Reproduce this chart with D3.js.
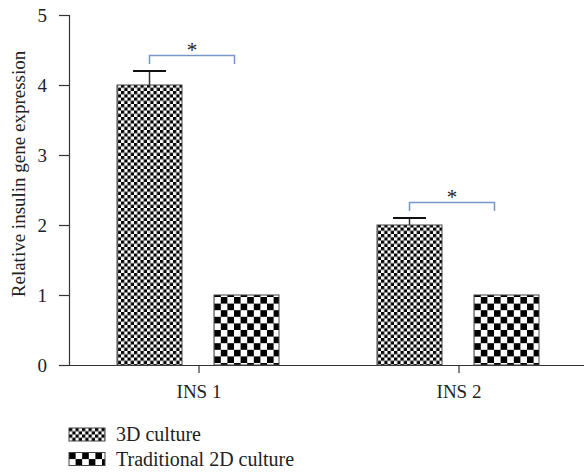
<!DOCTYPE html>
<html>
<head>
<meta charset="utf-8">
<script src="https://cdn.jsdelivr.net/npm/d3@7"></script>
<style>
  body { margin: 0; background: #fff; }
  text { font-family: "Liberation Serif", "DejaVu Serif", serif; fill: #222; }
</style>
</head>
<body>
<div id="chart-area"></div>
<script>
// data
var genes = ["INS 1", "INS 2"];
var series = ["3D culture", "Traditional 2D culture"];
var culture3D = [4.0, 2.0];
var culture2D = [1.0, 1.0];
var error3D = [0.2, 0.1];
var yTicks = [0, 1, 2, 3, 4, 5];

var width = 584, height = 472;

var svg = d3.select("#chart-area").append("svg")
	.attr("width", width)
	.attr("height", height);

// patterns
var defs = svg.append("defs");
function checker(id, c) {
	var p = defs.append("pattern")
		.attr("id", id)
		.attr("patternUnits", "userSpaceOnUse")
		.attr("width", c * 2)
		.attr("height", c * 2);
	p.append("rect").attr("width", c * 2).attr("height", c * 2).attr("fill", "#fff");
	p.append("rect").attr("width", c).attr("height", c).attr("fill", "#000");
	p.append("rect").attr("x", c).attr("y", c).attr("width", c).attr("height", c).attr("fill", "#000");
}
checker("fine", 3.25);
checker("coarse", 6.6);
var fills = ["url(#fine)", "url(#coarse)"];

// scales
var x0 = d3.scaleBand()
	.domain(genes)
	.range([69, 589]);

var x1 = d3.scaleBand()
	.domain(series)
	.range([48, 210])
	.paddingInner(32 / 97);

var y = d3.scaleLinear()
	.domain([0, 5])
	.range([365, 15]);

// axes
var yAxis = svg.append("g")
	.attr("transform", "translate(69,0)")
	.call(d3.axisLeft(y).tickValues(yTicks).tickSize(10).tickPadding(12).tickFormat(d3.format("d")));

var xAxis = svg.append("g")
	.attr("transform", "translate(0,365)")
	.call(d3.axisBottom(x0).tickSize(8).tickPadding(12).tickSizeOuter(0));
xAxis.select(".domain").attr("d", "M69,0.5H584");

[yAxis, xAxis].forEach(function(a) {
	a.selectAll("path, line").attr("stroke", "#333").attr("stroke-width", 1.2);
	a.selectAll("text").style("font-size", "19px").style("font-family", "Liberation Serif, serif").attr("fill", "#222");
});

// y label
svg.append("text")
	.attr("transform", "rotate(-90)")
	.attr("x", -174)
	.attr("y", 25)
	.attr("text-anchor", "middle")
	.style("font-size", "19px")
	.text("Relative insulin gene expression");

// bars
var rows = genes.map(function(g, i) {
	return { gene: g, values: [culture3D[i], culture2D[i]], err: error3D[i] };
});

var groups = svg.selectAll("g.group")
	.data(rows)
	.enter().append("g")
	.attr("class", "group")
	.attr("transform", function(d) { return "translate(" + x0(d.gene) + ",0)"; });

// error bars (3D only)
groups.append("line")
	.attr("x1", x1(series[0]) + x1.bandwidth() / 2)
	.attr("x2", x1(series[0]) + x1.bandwidth() / 2)
	.attr("y1", function(d) { return y(d.values[0]); })
	.attr("y2", function(d) { return y(d.values[0] + d.err); })
	.attr("stroke", "#333").attr("stroke-width", 1.5);
groups.append("line")
	.attr("x1", x1(series[0]) + x1.bandwidth() / 2 - 16.5)
	.attr("x2", x1(series[0]) + x1.bandwidth() / 2 + 16.5)
	.attr("y1", function(d) { return y(d.values[0] + d.err); })
	.attr("y2", function(d) { return y(d.values[0] + d.err); })
	.attr("stroke", "#111").attr("stroke-width", 2);

groups.selectAll("rect")
	.data(function(d) { return d.values.map(function(v, j) { return { s: series[j], v: v, j: j }; }); })
	.enter().append("rect")
	.attr("x", function(d) { return x1(d.s); })
	.attr("y", function(d) { return y(d.v); })
	.attr("width", x1.bandwidth())
	.attr("height", function(d) { return y(0) - y(d.v); })
	.attr("fill", function(d) { return fills[d.j]; })
	.attr("stroke", "#444")
	.attr("stroke-width", 1);

// significance brackets
groups.each(function(d) {
	var g = d3.select(this);
	var xl = x1(series[0]) + x1.bandwidth() / 2;
	var xr = x1(series[1]) + x1.bandwidth() / 2 - 12;
	var top = y(d.values[0] + d.err) - 15.5;
	g.append("path")
		.attr("d", "M" + xl + "," + (top + 8.5) + "V" + top + "H" + xr + "V" + (top + 8.5))
		.attr("fill", "none")
		.attr("stroke", "#7797c9")
		.attr("stroke-width", 1.5);
	g.append("text")
		.attr("x", (xl + xr) / 2)
		.attr("y", top + 1)
		.attr("text-anchor", "middle")
		.style("font-size", "21px")
		.text("*");
});

// legend
var legend = svg.append("g")
	.attr("transform", "translate(69,428)");
series.forEach(function(s, i) {
	var row = legend.append("g").attr("transform", "translate(0," + (i * 24.5) + ")");
	row.append("rect")
		.attr("width", 36).attr("height", 13)
		.attr("fill", fills[i])
		.attr("stroke", "#444");
	row.append("text")
		.attr("x", 47)
		.attr("y", 13)
		.style("font-size", "20px")
		.text(s);
});
</script>
</body>
</html>
